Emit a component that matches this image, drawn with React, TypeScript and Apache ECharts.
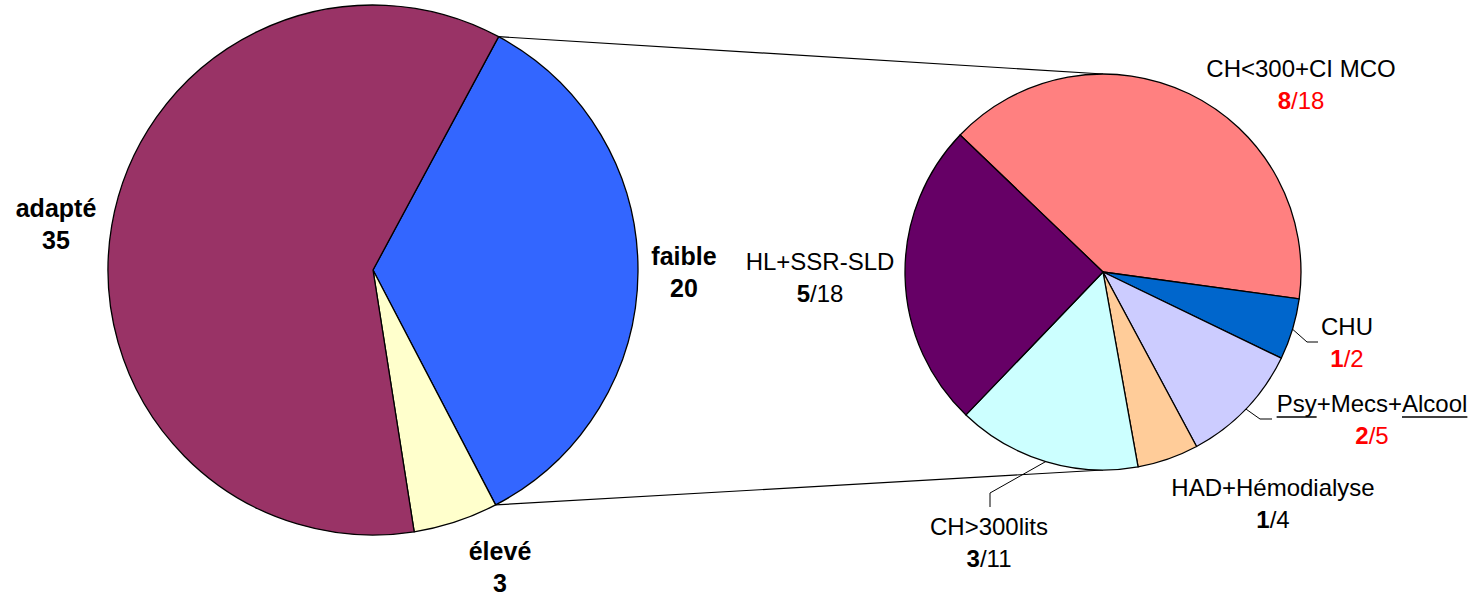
import React, { useEffect, useRef } from "react";
import * as echarts from "echarts";

// ---- Data ----
const mainCategories = ["faible", "élevé", "adapté"];
const mainValues = [20, 3, 35];
const mainColors = ["#3366FF", "#FFFFCC", "#993366"];

const detailCategories = [
  "CH<300+CI MCO",
  "CHU",
  "Psy+Mecs+Alcool",
  "HAD+Hémodialyse",
  "CH>300lits",
  "HL+SSR-SLD",
];
const detailValues = [8, 1, 2, 1, 3, 5];
const detailTotals = [18, 2, 5, 4, 11, 18];
const detailHighlight = [true, true, true, false, false, false];
const detailColors = ["#FF8080", "#0066CC", "#CCCCFF", "#FFCC99", "#CCFFFF", "#660066"];

// ---- Layout (positions, not data) ----
const W = 1474;
const H = 597;
const mainCenter = [373, 270];
const mainRadius = 265;
const mainStartAngle = 61.7;
const detCenter = [1103, 272];
const detRadius = 198;
const detStartAngle = 136.2;

const mainLabelPos = [
  [684, 272],
  [500, 567],
  [56, 224],
];
const detLabelPos = [
  [1301, 84],
  [1347, 342],
  [1372, 419],
  [1273, 503],
  [989, 542],
  [820, 277],
];
// leader line shape: [elbow point, end point] (null = no line)
const detLeader: (number[][] | null)[] = [
  null,
  [[1307, 342], [1318, 342]],
  [[1260, 419], [1272, 419]],
  null,
  [[990, 493], [990, 507]],
  null,
];

const FONT = "'Liberation Sans', Arial, sans-serif";
const DET_FONT_SIZE = 24;

export default function App() {
  const ref = useRef<HTMLDivElement>(null);

  useEffect(() => {
    if (!ref.current) return;
    const chart = echarts.init(ref.current, undefined, { renderer: "svg", width: W, height: H });

    const mainTotal = mainValues.reduce((a, b) => a + b, 0);
    const a0 = ((90 - mainStartAngle) * Math.PI) / 180;
    const a1 = a0 + (2 * Math.PI * mainValues[0]) / mainTotal;
    const p0 = [mainCenter[0] + mainRadius * Math.sin(a0), mainCenter[1] - mainRadius * Math.cos(a0)];
    const p1 = [mainCenter[0] + mainRadius * Math.sin(a1), mainCenter[1] - mainRadius * Math.cos(a1)];

    const detTotal = detailValues.reduce((a, b) => a + b, 0);
    const detStartCw = 90 - detStartAngle;
    const midPoint = (i: number) => {
      let acc = 0;
      for (let k = 0; k < i; k++) acc += detailValues[k];
      const ang = ((detStartCw + (360 * (acc + detailValues[i] / 2)) / detTotal) * Math.PI) / 180;
      return [detCenter[0] + detRadius * Math.sin(ang), detCenter[1] - detRadius * Math.cos(ang)];
    };

    const mainData = mainCategories.map((name, i) => ({
      name,
      value: mainValues[i],
      itemStyle: { color: mainColors[i] },
    }));

    const detData = detailCategories.map((name, i) => {
      const hl = detailHighlight[i];
      const nameFmt =
        name === "Psy+Mecs+Alcool" ? "{u|Psy}{n|+Mecs+}{u|Alcool}" : `{n|${name}}`;
      return {
        name,
        value: detailValues[i],
        itemStyle: { color: detailColors[i] },
        label: {
          formatter: `${nameFmt}\n{${hl ? "rb" : "kb"}|${detailValues[i]}}{${hl ? "r" : "k"}|/${detailTotals[i]}}`,
        },
        labelLine: { show: detLeader[i] != null },
      };
    });

    const richBase = { fontFamily: FONT, fontSize: DET_FONT_SIZE, lineHeight: 32 };

    // underline positions under "Psy" and "Alcool" derived from measured text widths
    const psyIdx = detailCategories.indexOf("Psy+Mecs+Alcool");
    const fontStr = `${DET_FONT_SIZE}px ${FONT}`;
    const wFull = echarts.format.getTextRect
      ? (echarts as any).format.getTextRect("Psy+Mecs+Alcool", fontStr).width
      : 190;
    const wPsy = (echarts as any).format.getTextRect
      ? (echarts as any).format.getTextRect("Psy", fontStr).width
      : 40;
    const wAlc = (echarts as any).format.getTextRect
      ? (echarts as any).format.getTextRect("Alcool", fontStr).width
      : 65;
    const psyLeft = detLabelPos[psyIdx][0] - wFull / 2;
    const psyRight = detLabelPos[psyIdx][0] + wFull / 2;
    const ulY = 417;

    chart.setOption({
      animation: false,
      backgroundColor: "#ffffff",
      series: [
        {
          type: "pie",
          center: mainCenter,
          radius: mainRadius,
          startAngle: mainStartAngle,
          clockwise: true,
          avoidLabelOverlap: false,
          data: mainData,
          itemStyle: { borderColor: "#000", borderWidth: 1.3 },
          emphasis: { disabled: true },
          label: {
            show: true,
            position: "outside",
            formatter: "{b}\n{c}",
            fontFamily: FONT,
            fontWeight: "bold",
            fontSize: 25,
            lineHeight: 32,
            color: "#000",
            align: "center",
          },
          labelLine: { show: false },
          labelLayout: (p: any) => ({
            x: mainLabelPos[p.dataIndex][0],
            y: mainLabelPos[p.dataIndex][1],
            align: "center",
            verticalAlign: "middle",
          }),
        },
        {
          type: "pie",
          center: detCenter,
          radius: detRadius,
          startAngle: detStartAngle,
          clockwise: true,
          avoidLabelOverlap: false,
          data: detData,
          itemStyle: { borderColor: "#000", borderWidth: 1.3 },
          emphasis: { disabled: true },
          label: {
            show: true,
            position: "outside",
            align: "center",
            rich: {
              n: { ...richBase, color: "#000" },
              u: { ...richBase, color: "#000" },
              k: { ...richBase, color: "#000" },
              kb: { ...richBase, color: "#000", fontWeight: "bold" },
              r: { ...richBase, color: "#FF0000" },
              rb: { ...richBase, color: "#FF0000", fontWeight: "bold" },
            },
          },
          labelLine: { show: true, lineStyle: { color: "#000", width: 1 } },
          labelLayout: (p: any) => {
            const i = p.dataIndex;
            const out: any = {
              x: detLabelPos[i][0],
              y: detLabelPos[i][1],
              align: "center",
              verticalAlign: "middle",
            };
            const lead = detLeader[i];
            if (lead) {
              const start =
                p.labelLinePoints && p.labelLinePoints[0] ? p.labelLinePoints[0] : midPoint(i);
              out.labelLinePoints = [start, lead[0], lead[1]];
            }
            return out;
          },
        },
      ],
      graphic: [
        {
          type: "line",
          z: 0,
          shape: { x1: p0[0], y1: p0[1], x2: detCenter[0], y2: detCenter[1] - detRadius },
          style: { stroke: "#000", lineWidth: 1.2 },
        },
        {
          type: "line",
          z: 0,
          shape: { x1: p1[0], y1: p1[1], x2: detCenter[0], y2: detCenter[1] + detRadius },
          style: { stroke: "#000", lineWidth: 1.2 },
        },
        // underlines for "Psy" and "Alcool"
        {
          type: "line",
          shape: { x1: psyLeft, y1: ulY, x2: psyLeft + wPsy, y2: ulY },
          style: { stroke: "#000", lineWidth: 1.3 },
        },
        {
          type: "line",
          shape: { x1: psyRight - wAlc, y1: ulY, x2: psyRight, y2: ulY },
          style: { stroke: "#000", lineWidth: 1.3 },
        },
      ],
    });

    return () => chart.dispose();
  }, []);

  return (
    <div
      ref={ref}
      style={{ position: "absolute", left: 0, top: 0, width: W, height: H, background: "#fff" }}
    />
  );
}
